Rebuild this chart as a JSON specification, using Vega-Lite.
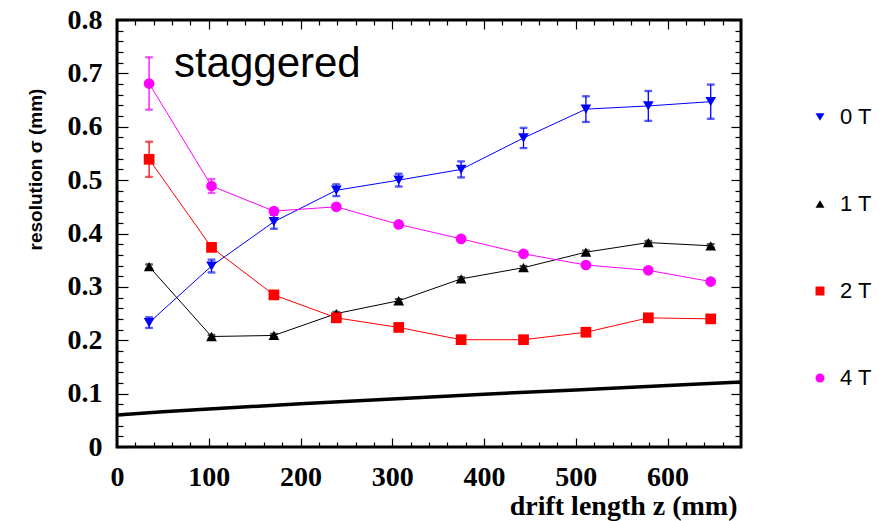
{
  "$schema": "https://vega.github.io/schema/vega-lite/v6.json",
  "width": 624,
  "height": 427,
  "autosize": "none",
  "padding": {"left": 117, "top": 20, "right": 149, "bottom": 74},
  "background": "white",
  "config": {
    "view": {"stroke": "black", "strokeWidth": 3},
    "axis": {"grid": false, "domain": false, "tickColor": "black", "tickWidth": 1.2, "labelColor": "black", "titleColor": "black"}
  },
  "datasets": {
    "pts": [
      {"series": "0 T", "z": 35, "sigma": 0.233, "err": 0.010},
      {"series": "0 T", "z": 103, "sigma": 0.339, "err": 0.012},
      {"series": "0 T", "z": 171, "sigma": 0.422, "err": 0.013},
      {"series": "0 T", "z": 239, "sigma": 0.481, "err": 0.011},
      {"series": "0 T", "z": 307, "sigma": 0.500, "err": 0.012},
      {"series": "0 T", "z": 375, "sigma": 0.520, "err": 0.015},
      {"series": "0 T", "z": 443, "sigma": 0.579, "err": 0.019},
      {"series": "0 T", "z": 511, "sigma": 0.633, "err": 0.024},
      {"series": "0 T", "z": 579, "sigma": 0.639, "err": 0.028},
      {"series": "0 T", "z": 647, "sigma": 0.647, "err": 0.032},
      {"series": "1 T", "z": 35, "sigma": 0.338, "err": 0.004},
      {"series": "1 T", "z": 103, "sigma": 0.207, "err": 0.003},
      {"series": "1 T", "z": 171, "sigma": 0.209, "err": 0.003},
      {"series": "1 T", "z": 239, "sigma": 0.250, "err": 0.003},
      {"series": "1 T", "z": 307, "sigma": 0.274, "err": 0.003},
      {"series": "1 T", "z": 375, "sigma": 0.315, "err": 0.003},
      {"series": "1 T", "z": 443, "sigma": 0.336, "err": 0.003},
      {"series": "1 T", "z": 511, "sigma": 0.365, "err": 0.003},
      {"series": "1 T", "z": 579, "sigma": 0.383, "err": 0.003},
      {"series": "1 T", "z": 647, "sigma": 0.377, "err": 0.003},
      {"series": "2 T", "z": 35, "sigma": 0.539, "err": 0.033},
      {"series": "2 T", "z": 103, "sigma": 0.374, "err": 0.006},
      {"series": "2 T", "z": 171, "sigma": 0.285, "err": 0.004},
      {"series": "2 T", "z": 239, "sigma": 0.242, "err": 0.003},
      {"series": "2 T", "z": 307, "sigma": 0.224, "err": 0.003},
      {"series": "2 T", "z": 375, "sigma": 0.201, "err": 0.003},
      {"series": "2 T", "z": 443, "sigma": 0.201, "err": 0.003},
      {"series": "2 T", "z": 511, "sigma": 0.215, "err": 0.003},
      {"series": "2 T", "z": 579, "sigma": 0.242, "err": 0.003},
      {"series": "2 T", "z": 647, "sigma": 0.240, "err": 0.003},
      {"series": "4 T", "z": 35, "sigma": 0.681, "err": 0.049},
      {"series": "4 T", "z": 103, "sigma": 0.489, "err": 0.013},
      {"series": "4 T", "z": 171, "sigma": 0.442, "err": 0.004},
      {"series": "4 T", "z": 239, "sigma": 0.450, "err": 0.004},
      {"series": "4 T", "z": 307, "sigma": 0.417, "err": 0.003},
      {"series": "4 T", "z": 375, "sigma": 0.390, "err": 0.003},
      {"series": "4 T", "z": 443, "sigma": 0.362, "err": 0.003},
      {"series": "4 T", "z": 511, "sigma": 0.341, "err": 0.003},
      {"series": "4 T", "z": 579, "sigma": 0.331, "err": 0.003},
      {"series": "4 T", "z": 647, "sigma": 0.310, "err": 0.003}
    ],
    "limit": [
      {"z": 0, "sigma": 0.060},
      {"z": 50, "sigma": 0.066},
      {"z": 100, "sigma": 0.071},
      {"z": 200, "sigma": 0.081},
      {"z": 300, "sigma": 0.090},
      {"z": 400, "sigma": 0.099},
      {"z": 500, "sigma": 0.107},
      {"z": 600, "sigma": 0.115},
      {"z": 680, "sigma": 0.122}
    ],
    "label": [
      {"z": 62, "sigma": 0.693, "text": "staggered"}
    ]
  },
  "resolve": {"axis": {"x": "independent", "y": "independent"}},
  "layer": [
    {
      "data": {"name": "limit"},
      "mark": {"type": "line", "color": "black", "strokeWidth": 3.5},
      "encoding": {
        "x": {
          "field": "z", "type": "quantitative",
          "scale": {"domain": [0, 680], "nice": false, "zero": false},
          "axis": {
            "orient": "bottom",
            "values": [0, 100, 200, 300, 400, 500, 600],
            "tickSize": -9,
            "labelFont": "Liberation Serif", "labelFontWeight": "bold", "labelFontSize": 28,
            "labelPadding": 25, "labelFlush": false, "labelOverlap": false, "labelBound": false,
            "title": "drift length z (mm)",
            "titleFont": "Liberation Serif", "titleFontWeight": "bold", "titleFontSize": 28,
            "titleAnchor": "end", "titleAlign": "right", "titleBaseline": "alphabetic",
            "titleX": 620, "titleY": 67
          }
        },
        "y": {
          "field": "sigma", "type": "quantitative",
          "scale": {"domain": [0, 0.8], "nice": false, "zero": false},
          "axis": {
            "orient": "left",
            "values": [0, 0.1, 0.2, 0.3, 0.4, 0.5, 0.6, 0.7, 0.8],
            "tickSize": -11,
            "labelExpr": "datum.value == 0 ? '0' : format(datum.value, '.1f')",
            "labelFont": "Liberation Serif", "labelFontWeight": "bold", "labelFontSize": 28,
            "labelPadding": 26, "labelFlush": false, "labelOverlap": false, "labelBound": false,
            "title": "resolution σ (mm)",
            "titleFont": "Liberation Sans", "titleFontWeight": "bold", "titleFontSize": 19,
            "titleAngle": -90, "titleAlign": "center", "titleBaseline": "middle",
            "titleX": -82, "titleY": 149
          }
        }
      }
    },
    {
      "data": {"name": "pts"},
      "mark": {"type": "line", "strokeWidth": 1},
      "encoding": {
        "x": {
          "field": "z", "type": "quantitative",
          "axis": {"orient": "top", "values": [0, 100, 200, 300, 400, 500, 600], "tickSize": -9, "labels": false, "title": null}
        },
        "y": {
          "field": "sigma", "type": "quantitative",
          "axis": {"orient": "right", "values": [0, 0.1, 0.2, 0.3, 0.4, 0.5, 0.6, 0.7, 0.8], "tickSize": -10, "labels": false, "title": null}
        },
        "stroke": {
          "field": "series", "type": "nominal",
          "scale": {"domain": ["4 T", "2 T", "1 T", "0 T"], "range": ["#ff00ff", "#ff0000", "#000000", "#0000ff"]},
          "legend": null
        }
      }
    },
    {
      "data": {"name": "pts"},
      "mark": {"type": "errorbar", "ticks": {"size": 7, "thickness": 1.3}, "rule": {"strokeWidth": 1.3}},
      "encoding": {
        "x": {
          "field": "z", "type": "quantitative",
          "axis": {"orient": "bottom", "values": [20,40,60,80,120,140,160,180,220,240,260,280,320,340,360,380,420,440,460,480,520,540,560,580,620,640,660], "tickSize": -5, "labels": false, "title": null}
        },
        "y": {
          "field": "sigma", "type": "quantitative",
          "axis": {"orient": "left", "values": [0.02,0.04,0.06,0.08,0.12,0.14,0.16,0.18,0.22,0.24,0.26,0.28,0.32,0.34,0.36,0.38,0.42,0.44,0.46,0.48,0.52,0.54,0.56,0.58,0.62,0.64,0.66,0.68,0.72,0.74,0.76,0.78], "tickSize": -6, "labels": false, "title": null}
        },
        "yError": {"field": "err"},
        "stroke": {"field": "series", "type": "nominal", "legend": null}
      }
    },
    {
      "data": {"name": "pts"},
      "mark": {"type": "point", "filled": true, "size": 115, "opacity": 1},
      "encoding": {
        "x": {
          "field": "z", "type": "quantitative",
          "axis": {"orient": "top", "values": [20,40,60,80,120,140,160,180,220,240,260,280,320,340,360,380,420,440,460,480,520,540,560,580,620,640,660], "tickSize": -5, "labels": false, "title": null}
        },
        "y": {
          "field": "sigma", "type": "quantitative",
          "axis": {"orient": "right", "values": [0.02,0.04,0.06,0.08,0.12,0.14,0.16,0.18,0.22,0.24,0.26,0.28,0.32,0.34,0.36,0.38,0.42,0.44,0.46,0.48,0.52,0.54,0.56,0.58,0.62,0.64,0.66,0.68,0.72,0.74,0.76,0.78], "tickSize": -6, "labels": false, "title": null}
        },
        "color": {
          "field": "series", "type": "nominal",
          "scale": {"domain": ["0 T", "1 T", "2 T", "4 T"], "range": ["#0000ff", "#000000", "#ff0000", "#ff00ff"]},
          "legend": {
            "orient": "none", "legendX": 692, "legendY": 86, "title": null, "padding": 0,
            "symbolSize": 80, "labelFont": "Liberation Sans", "labelFontSize": 22, "labelColor": "black",
            "labelOffset": 9, "rowPadding": 65
          }
        },
        "shape": {
          "field": "series", "type": "nominal",
          "scale": {"domain": ["0 T", "1 T", "2 T", "4 T"], "range": ["triangle-down", "triangle-up", "square", "circle"]}
        }
      }
    },
    {
      "data": {"name": "label"},
      "mark": {"type": "text", "font": "Liberation Sans", "fontSize": 42, "align": "left", "baseline": "alphabetic", "color": "black"},
      "encoding": {
        "x": {"field": "z", "type": "quantitative", "axis": null},
        "y": {"field": "sigma", "type": "quantitative", "axis": null},
        "text": {"field": "text"}
      }
    }
  ]
}
